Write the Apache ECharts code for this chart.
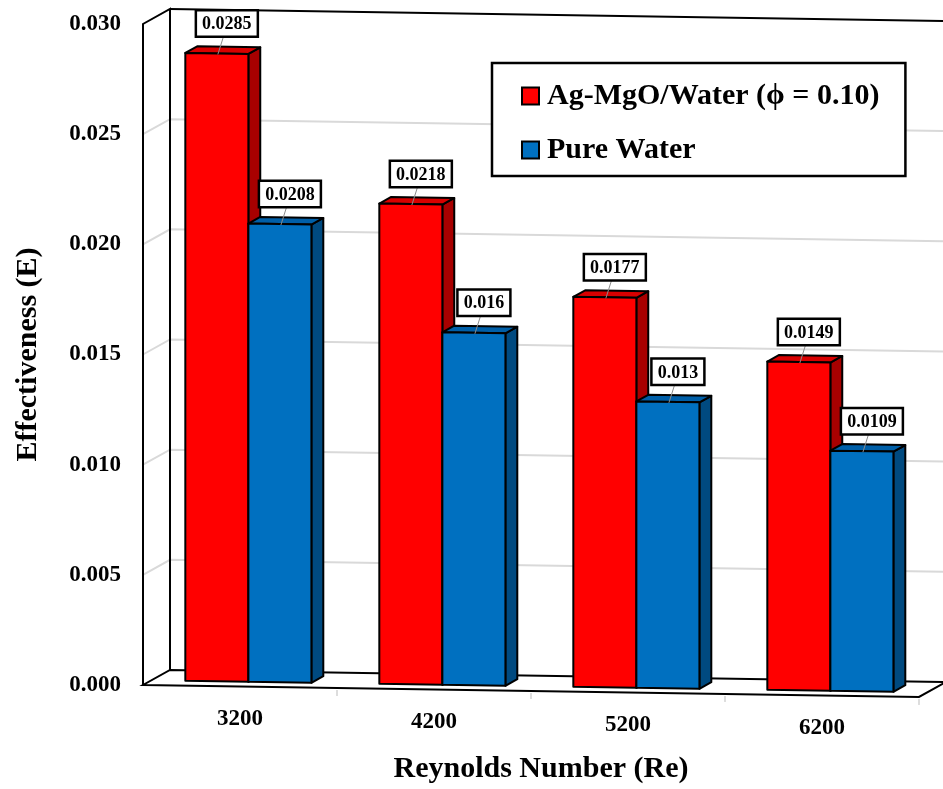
<!DOCTYPE html>
<html>
<head>
<meta charset="utf-8">
<script src="https://cdn.jsdelivr.net/npm/echarts@6/dist/echarts.min.js"></script>
<style>
html,body{margin:0;padding:0;background:#fff;}
#chart{width:943px;height:789px;}
</style>
</head>
<body>
<div id="chart"></div>
<script>
// ---- data ----
const categories = ['3200', '4200', '5200', '6200'];
const agMgOWater = [0.0285, 0.0218, 0.0177, 0.0149];
const pureWater = [0.0208, 0.016, 0.013, 0.0109];
const seriesNames = ['Ag-MgO/Water (\u03D5 = 0.10)', 'Pure Water'];
const yMin = 0, yMax = 0.030, yStep = 0.005;

// ---- style / geometry constants ----
const FONT = '"Liberation Serif", "Times New Roman", serif';
const DX = 27, DY = -15, SHEAR = 0.0154;
const BAR_D0 = 0.31, BAR_D1 = 0.75, BAR_FRAC = 0.325;

function makeProj(cs) {
  return function (x, y, d) {
    return [x + DX * d, y + DY * d + SHEAR * (x - cs.x)];
  };
}

function frameRender(params, api) {
  const cs = params.coordSys;
  const P = makeProj(cs);
  const x0 = cs.x, x1 = cs.x + cs.width;
  const yB = api.coord([0, yMin])[1];
  const yT = api.coord([0, yMax])[1];
  const ch = [];
  const black = { stroke: '#000', lineWidth: 2, fill: null };
  ch.push({ type: 'polygon', shape: { points: [P(x0, yB, 1), P(x0, yT, 1), P(x1, yT, 1), P(x1, yB, 1)] }, style: { fill: '#fff' } });
  ch.push({ type: 'polygon', shape: { points: [P(x0, yB, 0), P(x0, yT, 0), P(x0, yT, 1), P(x0, yB, 1)] }, style: { fill: '#fff' } });
  for (let v = yMin + yStep; v < yMax - 1e-9; v += yStep) {
    const y = api.coord([0, v])[1];
    ch.push({ type: 'polyline', shape: { points: [P(x0, y, 0), P(x0, y, 1), P(x1, y, 1)] }, style: { stroke: '#d9d9d9', lineWidth: 2, fill: null } });
  }
  ch.push({ type: 'polyline', shape: { points: [P(x0, yB, 0), P(x0, yT, 0), P(x0, yT, 1), P(x0, yB, 1)] }, style: black });
  ch.push({ type: 'polyline', shape: { points: [P(x0, yT, 1), P(x1, yT, 1)] }, style: black });
  ch.push({ type: 'polygon', shape: { points: [P(x0, yB, 0), P(x1, yB, 0), P(x1, yB, 1), P(x0, yB, 1)] }, style: { fill: '#fff', stroke: '#000', lineWidth: 2 } });
  const band = cs.width / categories.length;
  for (let i = 1; i <= categories.length; i++) {
    const p = P(x0 + i * band, yB, 0);
    ch.push({ type: 'line', shape: { x1: p[0], y1: p[1] + 2, x2: p[0], y2: p[1] + 8 }, style: { stroke: '#bbb', lineWidth: 1 } });
  }
  return { type: 'group', children: ch };
}

function makeBarRender(side, colors) {
  return function (params, api) {
    const cs = params.coordSys;
    const P = makeProj(cs);
    const idx = api.value(0), v = api.value(1);
    const c = api.coord([idx, v]);
    const y0 = api.coord([idx, 0])[1];
    const band = api.size([1, 0])[0];
    const w = band * BAR_FRAC;
    const xl = side === 0 ? c[0] - w : c[0];
    const xr = xl + w;
    const yv = c[1];
    const st = { stroke: '#000', lineWidth: 2, lineJoin: 'round' };
    const ch = [];
    ch.push({ type: 'polygon', shape: { points: [P(xr, yv, BAR_D0), P(xr, y0, BAR_D0), P(xr, y0, BAR_D1), P(xr, yv, BAR_D1)] }, style: Object.assign({ fill: colors.side }, st) });
    ch.push({ type: 'polygon', shape: { points: [P(xl, yv, BAR_D0), P(xr, yv, BAR_D0), P(xr, yv, BAR_D1), P(xl, yv, BAR_D1)] }, style: Object.assign({ fill: colors.top }, st) });
    ch.push({ type: 'polygon', shape: { points: [P(xl, yv, BAR_D0), P(xr, yv, BAR_D0), P(xr, y0, BAR_D0), P(xl, y0, BAR_D0)] }, style: Object.assign({ fill: colors.front }, st) });
    const tc = P(xl + w / 2, yv, BAR_D0);
    const bx = tc[0] + 10, by = tc[1] - 18;
    ch.push({ type: 'line', z2: 100, shape: { x1: bx - 3, y1: by, x2: tc[0] + 1, y2: tc[1] + 1 }, style: { stroke: '#8c8c8c', lineWidth: 1 } });
    ch.push({
      type: 'text', z2: 101,
      style: {
        text: String(v), x: bx, y: by, align: 'center', verticalAlign: 'bottom',
        font: 'bold 18px ' + FONT, fill: '#000',
        backgroundColor: '#fff', borderColor: '#000', borderWidth: 2.5, padding: [4, 5, 2, 5]
      }
    });
    return { type: 'group', children: ch };
  };
}

function catLabelRender(params, api) {
  const cs = params.coordSys;
  const P = makeProj(cs);
  const idx = api.value(0);
  const c = api.coord([idx, yMin]);
  const p = P(c[0], c[1], 0);
  return {
    type: 'text',
    style: { text: categories[idx], x: p[0], y: p[1] + 33, align: 'center', verticalAlign: 'middle', font: 'bold 23px ' + FONT, fill: '#000' }
  };
}

const chart = echarts.init(document.getElementById('chart'), null, { renderer: 'canvas' });
chart.setOption({
  animation: false,
  backgroundColor: '#fff',
  grid: { left: 143, right: 24, top: 24, bottom: 104, containLabel: false },
  legend: {
    orient: 'vertical', left: 492, top: 63,
    padding: [16, 26, 9, 29], itemGap: 20, itemWidth: 17, itemHeight: 17, icon: 'rect',
    backgroundColor: '#fff', borderColor: '#000', borderWidth: 2.5, selectedMode: false,
    itemStyle: { borderColor: '#000', borderWidth: 2 },
    textStyle: { fontFamily: FONT, fontWeight: 'bold', fontSize: 30, color: '#000', lineHeight: 34, padding: [0, 0, 0, 3] },
    data: seriesNames
  },
  xAxis: {
    type: 'category', data: categories,
    axisLine: { show: false }, axisTick: { show: false }, axisLabel: { show: false }, splitLine: { show: false },
    name: 'Reynolds Number (Re)', nameLocation: 'middle', nameGap: 69,
    nameTextStyle: { fontFamily: FONT, fontWeight: 'bold', fontSize: 30, color: '#000', padding: [0, 0, 0, 20] }
  },
  yAxis: {
    type: 'value', min: yMin, max: yMax, interval: yStep,
    axisLine: { show: false }, axisTick: { show: false }, splitLine: { show: false },
    axisLabel: { margin: 22, fontFamily: FONT, fontWeight: 'bold', fontSize: 23, color: '#000', formatter: v => v.toFixed(3) },
    name: 'Effectiveness (E)', nameLocation: 'middle', nameRotate: 90, nameGap: 100,
    nameTextStyle: { fontFamily: FONT, fontWeight: 'bold', fontSize: 30, color: '#000' }
  },
  series: [
    { type: 'custom', name: '_frame', silent: true, z: 1, renderItem: frameRender, data: [[0, 0]], encode: { x: 0, y: 1 } },
    {
      type: 'custom', name: seriesNames[0], z: 2, itemStyle: { color: '#FF0000' },
      renderItem: makeBarRender(0, { front: '#FF0000', side: '#A80000', top: '#D80000' }),
      data: agMgOWater.map((v, i) => [i, v]), encode: { x: 0, y: 1 }
    },
    {
      type: 'custom', name: seriesNames[1], z: 2, itemStyle: { color: '#0070C0' },
      renderItem: makeBarRender(1, { front: '#0070C0', side: '#004A80', top: '#005FA8' }),
      data: pureWater.map((v, i) => [i, v]), encode: { x: 0, y: 1 }
    },
    { type: 'custom', name: '_cats', silent: true, z: 3, renderItem: catLabelRender, data: categories.map((c, i) => [i, 0]), encode: { x: 0, y: 1 } }
  ]
});
</script>
</body>
</html>
